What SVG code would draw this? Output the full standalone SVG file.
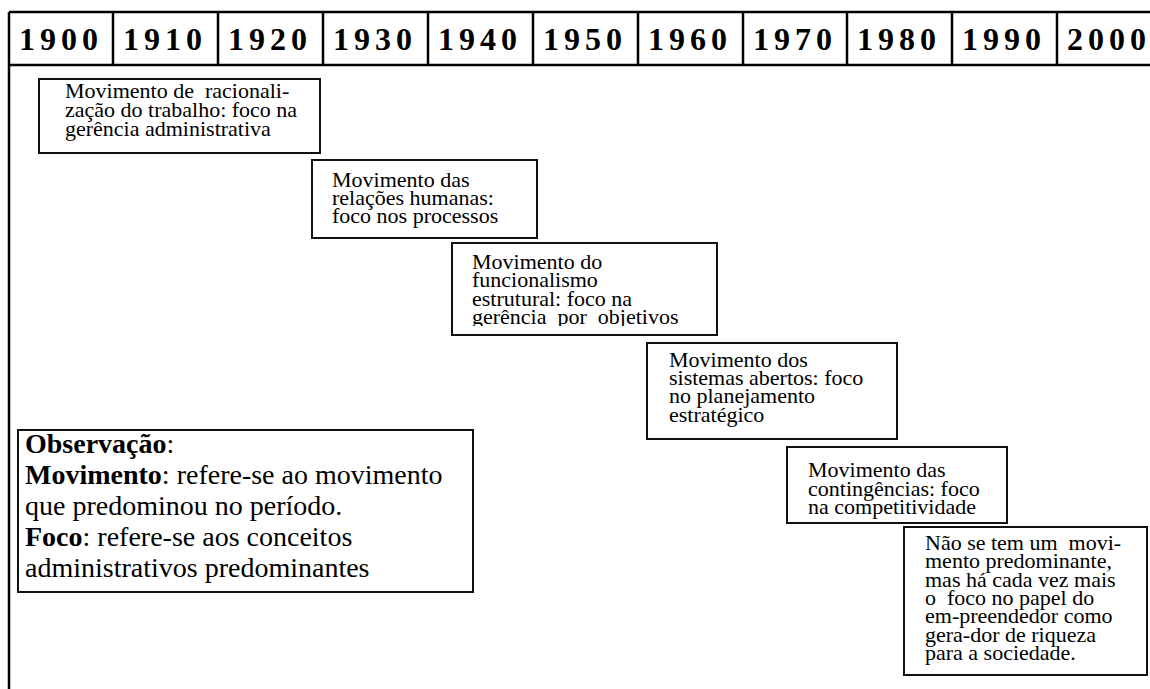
<svg xmlns="http://www.w3.org/2000/svg" width="1150" height="689" viewBox="0 0 1150 689">
<style>
.yr{font-family:"Liberation Serif",serif;font-weight:bold;font-size:32px;letter-spacing:5px;fill:#000}
.bx{fill:#fff;stroke:#111;stroke-width:2}
.t{font-family:"Liberation Serif",serif;font-size:22px;fill:#000;white-space:pre}
.o{font-family:"Liberation Serif",serif;font-size:28px;fill:#000;white-space:pre}
.b{font-weight:bold}
.ln{stroke:#000;stroke-width:2.5;fill:none}
</style>
<defs>
<clipPath id="c3"><rect x="452" y="243" width="266" height="83"/></clipPath>
</defs>
<g id="timeline">
<line class="ln" x1="9" y1="12" x2="1150" y2="12"/>
<line class="ln" x1="9" y1="65" x2="1150" y2="65"/>
<line class="ln" x1="9" y1="12" x2="9" y2="689"/>
<line class="ln" x1="113" y1="12" x2="113" y2="65"/>
<line class="ln" x1="218" y1="12" x2="218" y2="65"/>
<line class="ln" x1="323" y1="12" x2="323" y2="65"/>
<line class="ln" x1="428" y1="12" x2="428" y2="65"/>
<line class="ln" x1="533" y1="12" x2="533" y2="65"/>
<line class="ln" x1="638" y1="12" x2="638" y2="65"/>
<line class="ln" x1="743" y1="12" x2="743" y2="65"/>
<line class="ln" x1="847" y1="12" x2="847" y2="65"/>
<line class="ln" x1="952" y1="12" x2="952" y2="65"/>
<line class="ln" x1="1057" y1="12" x2="1057" y2="65"/>
<text class="yr" x="19" y="50">1900</text>
<text class="yr" x="123" y="50">1910</text>
<text class="yr" x="228" y="50">1920</text>
<text class="yr" x="333" y="50">1930</text>
<text class="yr" x="438" y="50">1940</text>
<text class="yr" x="543" y="50">1950</text>
<text class="yr" x="648" y="50">1960</text>
<text class="yr" x="753" y="50">1970</text>
<text class="yr" x="857" y="50">1980</text>
<text class="yr" x="962" y="50">1990</text>
<text class="yr" x="1067" y="50">2000</text>
</g>
<g id="connectors"></g>
<g id="box1">
<rect class="bx" x="39" y="79" width="281" height="74"/>
<text class="t" x="65" y="98">Movimento de  racionali-</text>
<text class="t" x="65" y="117">zação do trabalho: foco na</text>
<text class="t" x="65" y="136">gerência administrativa</text>
</g>
<g id="box2">
<rect class="bx" x="312" y="160" width="225" height="78"/>
<text class="t" x="332" y="187">Movimento das</text>
<text class="t" x="332" y="205">relações humanas:</text>
<text class="t" x="332" y="223">foco nos processos</text>
</g>
<g id="box3">
<rect class="bx" x="452" y="243" width="265" height="92"/>
<g clip-path="url(#c3)">
<text class="t" x="472" y="269">Movimento do</text>
<text class="t" x="472" y="287">funcionalismo</text>
<text class="t" x="472" y="306">estrutural: foco na</text>
<text class="t" x="472" y="324">gerência  por  objetivos</text>
</g>
</g>
<g id="box4">
<rect class="bx" x="647" y="343" width="250" height="96"/>
<text class="t" x="669" y="367">Movimento dos</text>
<text class="t" x="669" y="385">sistemas abertos: foco</text>
<text class="t" x="669" y="403">no planejamento</text>
<text class="t" x="669" y="422">estratégico</text>
</g>
<g id="box5">
<rect class="bx" x="787" y="447" width="220" height="76"/>
<text class="t" x="808" y="477">Movimento das</text>
<text class="t" x="808" y="496">contingências: foco</text>
<text class="t" x="808" y="514">na competitividade</text>
</g>
<g id="box6">
<rect class="bx" x="904" y="527" width="243" height="148"/>
<text class="t" x="925" y="550">Não se tem um  movi-</text>
<text class="t" x="925" y="568">mento predominante,</text>
<text class="t" x="925" y="587">mas há cada vez mais</text>
<text class="t" x="925" y="605">o  foco no papel do</text>
<text class="t" x="925" y="623">em-preendedor como</text>
<text class="t" x="925" y="642">gera-dor de riqueza</text>
<text class="t" x="925" y="660">para a sociedade.</text>
</g>
<g id="observacao">
<rect class="bx" x="18" y="430" width="455" height="162"/>
<text class="o" x="25" y="453"><tspan class="b">Observação</tspan>:</text>
<text class="o" x="25" y="484"><tspan class="b">Movimento</tspan>: refere-se ao movimento</text>
<text class="o" x="25" y="515">que predominou no período.</text>
<text class="o" x="25" y="546"><tspan class="b">Foco</tspan>: refere-se aos conceitos</text>
<text class="o" x="25" y="577">administrativos predominantes</text>
</g>
</svg>
